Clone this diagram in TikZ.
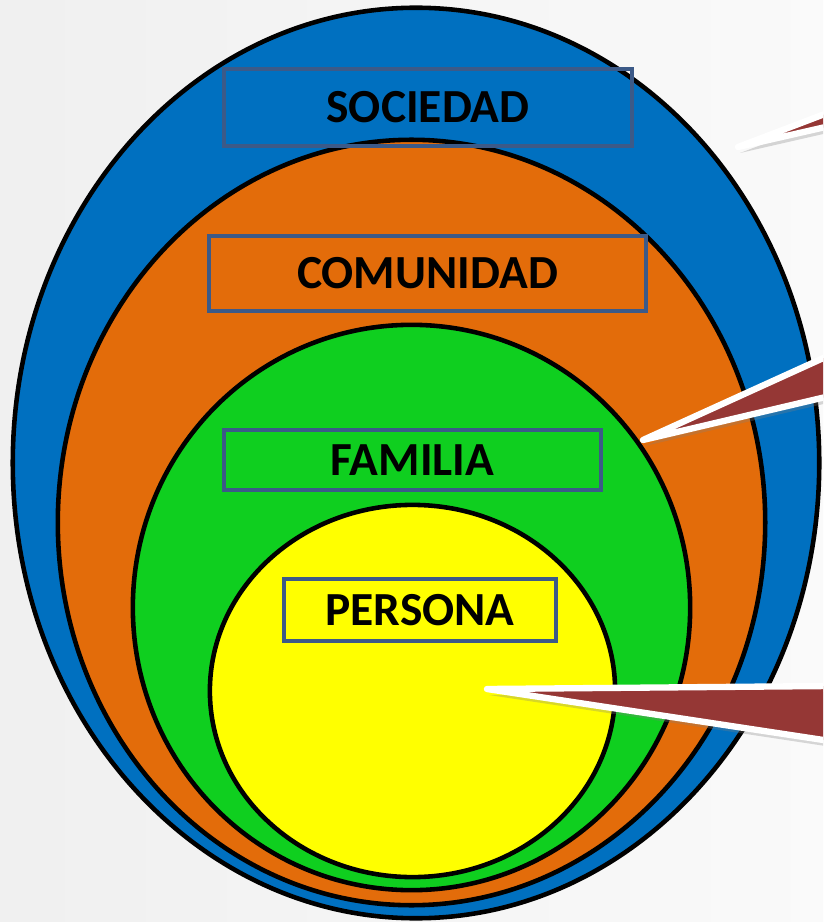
\documentclass[tikz,border=0pt]{standalone}
\usepackage{fontspec}
\setmainfont{Carlito}
\usetikzlibrary{shapes.geometric,shadows}
\definecolor{azul}{HTML}{0070C0}
\definecolor{naranja}{HTML}{E36C0A}
\definecolor{verde}{HTML}{0FCF1F}
\definecolor{amarillo}{HTML}{FFFF00}
\definecolor{bordeazul}{HTML}{3C5A88}
\definecolor{rojizo}{HTML}{953735}
\tikzset{
  circulo/.style={ellipse,draw=black,line width=1.3pt,inner sep=0pt},
  etiqueta/.style={draw=bordeazul,line width=1.1pt,inner sep=0pt,font=\bfseries\fontsize{13.5}{15}\selectfont},
  puntero/.style={fill=rojizo,draw=white,line width=1.8pt,line join=round,
    drop shadow={shadow xshift=0.02cm,shadow yshift=-0.06cm,opacity=0.3}}
}
\begin{document}
\begin{tikzpicture}[x=0.01cm,y=-0.01cm]
\shade[left color=black!6,right color=black!2] (0,0) rectangle (823,922);
\useasboundingbox (0,0) rectangle (823,922);
\clip (0,0) rectangle (823,922);

\node[circulo,fill=azul,minimum width=8.06cm,minimum height=9.10cm] (sociedad) at (416,463) {};
\node[circulo,fill=naranja,minimum width=7.07cm,minimum height=7.65cm] (comunidad) at (411.5,522.5) {};
\node[circulo,fill=verde,minimum width=5.57cm,minimum height=5.65cm] (familia) at (411.5,607.5) {};
\node[circulo,fill=amarillo,minimum width=4.05cm,minimum height=3.72cm] (persona) at (412.5,691) {};

\node[etiqueta,minimum width=4.08cm,minimum height=0.77cm] (etqSociedad) at (428,107.5) {SOCIEDAD};
\node[etiqueta,minimum width=4.37cm,minimum height=0.75cm] (etqComunidad) at (427.5,273.5) {COMUNIDAD};
\node[etiqueta,minimum width=3.77cm,minimum height=0.60cm] (etqFamilia) at (412.5,460) {FAMILIA};
\node[etiqueta,minimum width=2.72cm,minimum height=0.62cm] (etqPersona) at (420,610) {PERSONA};

\coordinate (puntaSociedad) at (738,147);
\coordinate (puntaComunidad) at (643,440);
\coordinate (puntaPersona) at (487,689);

\draw[puntero] (puntaSociedad) -- (830,112) -- (830,126) -- cycle;
\draw[puntero] (puntaComunidad) -- (830,355) -- (830,396) -- cycle;
\draw[puntero] (puntaPersona) -- (830,686) -- (830,741) -- cycle;
\end{tikzpicture}
\end{document}
